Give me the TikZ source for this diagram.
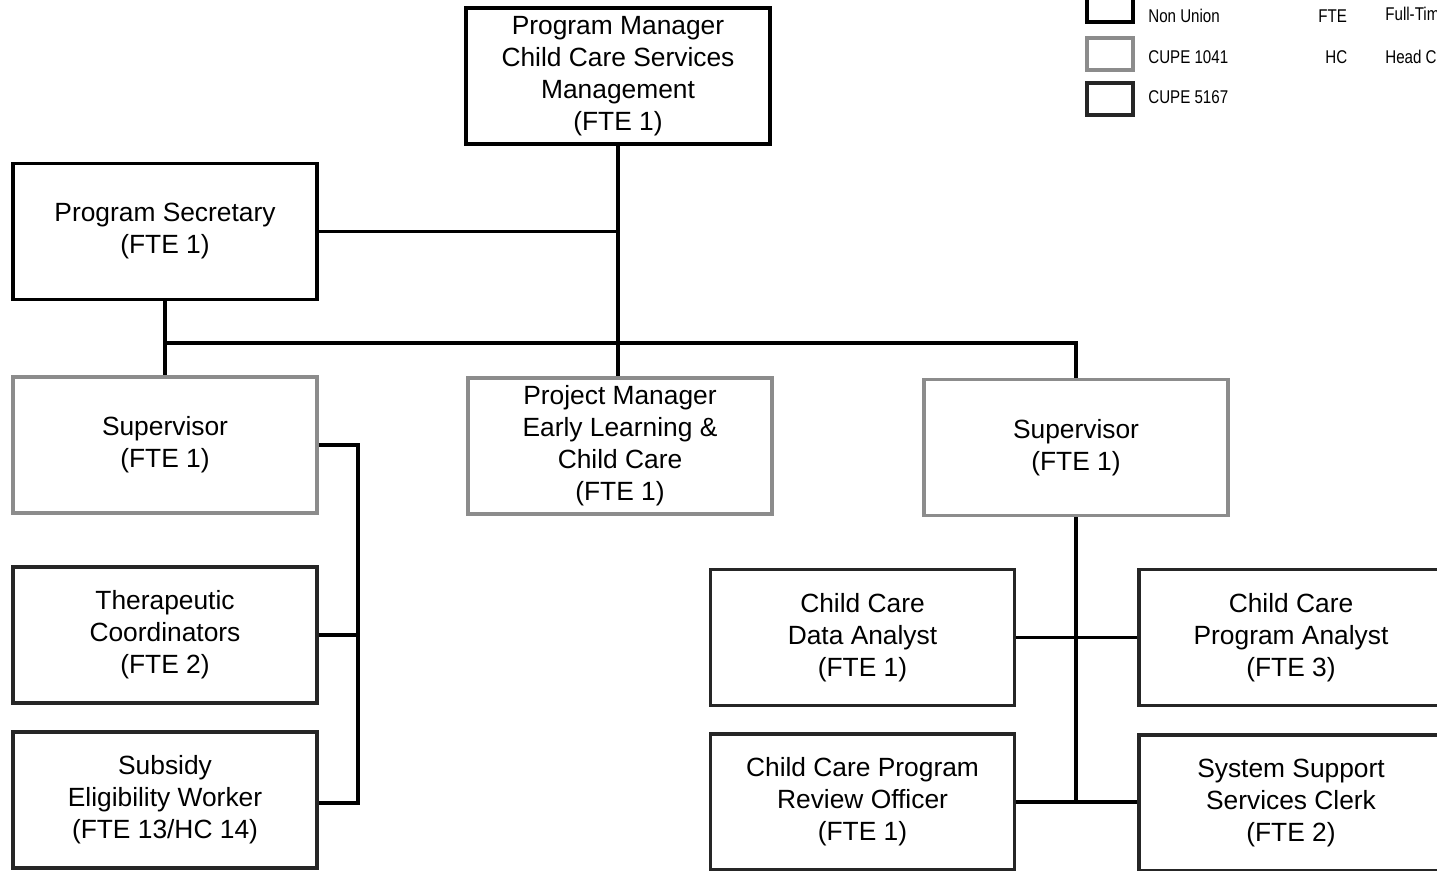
\documentclass[tikz,border=0pt]{standalone}
\usepackage{fontspec}
\setmainfont{Liberation Sans}
\usepackage{tikz}

\begin{document}
\begin{tikzpicture}[x=0.02cm,y=-0.02cm,
        post/.style={rectangle,draw,line width=2.1pt,minimum width=6.08cm,minimum height=2.72cm,
            align=center,inner sep=2pt,font=\fontsize{15}{18.2}\selectfont,
            execute at begin node=\rule{0pt}{20pt}},
        nonunion/.style={post,draw=black},
        cupeA/.style={post,draw=black!45},
        cupeB/.style={post,draw=black!85},
        keybox/.style={rectangle,line width=2.1pt,minimum width=0.92cm,minimum height=0.64cm,inner sep=0pt},
        keytext/.style={anchor=west,inner sep=0pt,font=\fontsize{10.5}{12}\selectfont},
        link/.style={line width=2.1pt}]

    \useasboundingbox (0,0) rectangle (1437,870);

    % Top of the chart
    \node[nonunion] (pm) at (618,76) {Program Manager\\Child Care Services\\Management\\(FTE 1)};
    \node[nonunion] (sec) at (165,231.5) {Program Secretary\\(FTE 1)};

    % Second row
    \node[cupeA] (supl) at (165,445) {Supervisor\\(FTE 1)};
    \node[cupeA] (proj) at (620,446) {Project Manager\\Early Learning \&\\Child Care\\(FTE 1)};
    \node[cupeA] (supr) at (1076,447.5) {Supervisor\\(FTE 1)};

    % Staff under the left supervisor
    \node[cupeB] (ther) at (165,635) {Therapeutic\\Coordinators\\(FTE 2)};
    \node[cupeB] (subs) at (165,800) {Subsidy\\Eligibility Worker\\(FTE 13/HC 14)};

    % Staff under the right supervisor
    \node[cupeB] (data) at (862.5,637.5) {Child Care\\Data Analyst\\(FTE 1)};
    \node[cupeB] (prog) at (1291,637.5) {Child Care\\Program Analyst\\(FTE 3)};
    \node[cupeB] (rev) at (862.5,802) {Child Care Program\\Review Officer\\(FTE 1)};
    \node[cupeB] (sys) at (1291,803) {System Support\\Services Clerk\\(FTE 2)};

    % Legend
    \node[keybox,draw=black] (k1) at (1110,6) {};
    \node[keybox,draw=black!45] (k2) at (1110,54) {};
    \node[keybox,draw=black!85] (k3) at (1110,99) {};
    \node[keytext] (t1) at (1148,16) {\scalebox{0.82}[1]{Non Union}};
    \node[keytext] (t2) at (1148,57) {\scalebox{0.82}[1]{CUPE 1041}};
    \node[keytext] (t3) at (1148,97) {\scalebox{0.82}[1]{CUPE 5167}};
    \node[keytext] (a1) at (1318,16) {\scalebox{0.82}[1]{FTE}};
    \node[keytext] (a2) at (1325,57) {\scalebox{0.82}[1]{HC}};
    \node[keytext] (d1) at (1385,16) {\scalebox{0.82}[1]{Full-Time Equivalent}};
    \node[keytext] (d2) at (1385,57) {\scalebox{0.82}[1]{Head Count}};

    % Bus points
    \coordinate (busl) at (165,343);
    \coordinate (busr) at (1076,343);
    \coordinate (lbot) at (358,803);

    % Edges
    \draw[link] (pm.south) -- (pm.south |- proj.north);
    \draw[link] (sec.east) -- (sec.east -| pm.south);

    \draw[link] (sec) -- (busl) -- (busr) -- (supr);
    \draw[link] (busl) -- (supl);

    \draw[link] (supl.east) -| (lbot) -- (subs.east |- lbot);
    \draw[link] (ther.east) -- (ther.east -| lbot);

    \draw[link] (supr.south) -- (supr.south |- rev.east);
    \draw[link] (data.east) -- (prog.west);
    \draw[link] (rev.east) -- (sys.west |- rev.east);

\end{tikzpicture}
\end{document}
